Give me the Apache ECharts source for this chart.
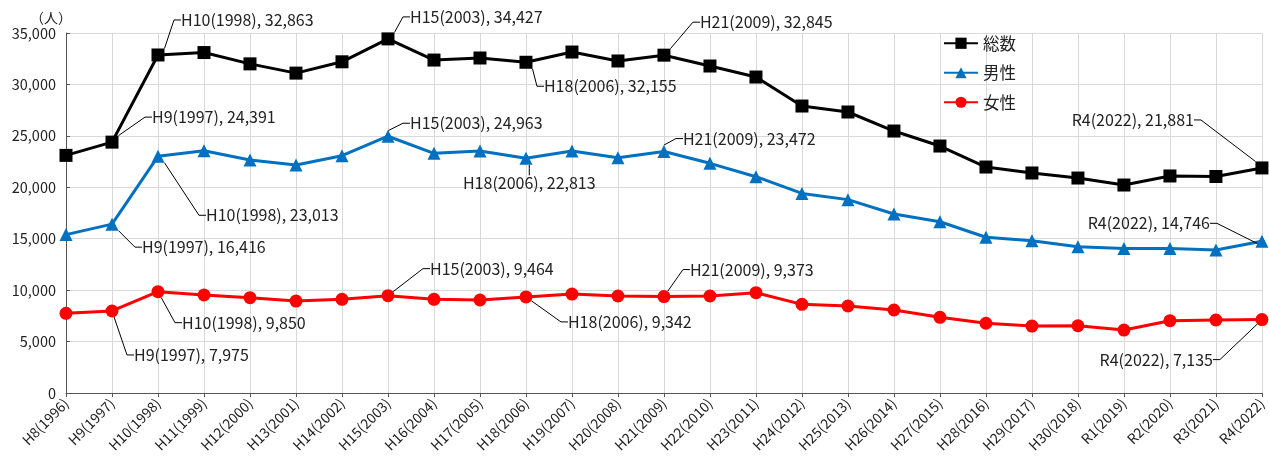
<!DOCTYPE html>
<html><head><meta charset="utf-8">
<script src="https://cdn.jsdelivr.net/npm/echarts@6/dist/echarts.min.js"></script>
<style>html,body{margin:0;padding:0;background:#fff}#c{width:1269px;height:464px}</style>
</head><body><div id="c"></div>
<script>
const categories = ['H8(1996)','H9(1997)','H10(1998)','H11(1999)','H12(2000)','H13(2001)','H14(2002)','H15(2003)','H16(2004)','H17(2005)','H18(2006)','H19(2007)','H20(2008)','H21(2009)','H22(2010)','H23(2011)','H24(2012)','H25(2013)','H26(2014)','H27(2015)','H28(2016)','H29(2017)','H30(2018)','R1(2019)','R2(2020)','R3(2021)','R4(2022)'];
const totalValues = [23100,24391,32863,33100,32000,31100,32200,34427,32370,32570,32155,33150,32280,32845,31790,30720,27900,27320,25470,24010,21970,21390,20900,20220,21100,21050,21881];
const maleValues = [15400,16416,23013,23550,22650,22170,23070,24963,23300,23530,22813,23530,22880,23472,22330,21030,19400,18800,17400,16650,15140,14810,14220,14060,14060,13900,14746];
const femaleValues = [7750,7975,9850,9530,9270,8940,9110,9464,9110,9040,9342,9620,9430,9373,9430,9750,8620,8460,8070,7360,6780,6510,6540,6120,7030,7100,7135];
const yTicks = [0,5000,10000,15000,20000,25000,30000,35000];
const seriesNames = ['総数','男性','女性'];
const annotatedIndices = [1,2,7,10,13,26];

// label placement (pixel offsets from point; style config, not data)
const labelOffsets = [
  {1:[40,-25,'left'],2:[23,-35,'left'],7:[22,-22,'left'],10:[18,24,'left'],13:[36,-33,'left'],26:[-68,-48,'right']},
  {1:[30,23,'left'],2:[48,59,'left'],7:[22,-13,'left'],10:[-63,25,'left'],13:[19,-13,'left'],26:[-52,-18,'right']},
  {1:[22,44,'left'],2:[24,31,'left'],7:[42,-27,'left'],10:[42,25,'left'],13:[26,-27,'left'],26:[-49,40,'right']}
];

const fmt = v => v.toLocaleString('en-US');
const FONT = '"Noto Sans CJK JP", "Noto Sans", sans-serif';

function buildData(values) {
  return values.map((v, i) => {
    if (annotatedIndices.indexOf(i) >= 0) {
      return {value: v, label: {show: true}, labelLine: {show: true}};
    }
    return v;
  });
}

function makeSeries(si, values, color, symbol, size) {
  return {
    name: seriesNames[si], type: 'line', data: buildData(values),
    symbol: symbol, symbolSize: size,
    lineStyle: {color: color, width: 3},
    itemStyle: {color: color, borderWidth: 0},
    z: 3 - si,
    label: {
      show: false, color: '#222', fontSize: 16, fontFamily: FONT,
      formatter: p => categories[p.dataIndex] + ', ' + fmt(p.value)
    },
    labelLine: {show: false, length2: 7, lineStyle: {color: '#000', width: 1}},
    labelLayout: function (p) {
      const o = labelOffsets[si][p.dataIndex];
      if (!o) return {};
      const cx = p.rect.x + p.rect.width / 2;
      const cy = p.rect.y + p.rect.height / 2;
      return {x: cx + o[0], y: cy + o[1], align: o[2], verticalAlign: 'middle'};
    },
    animation: false
  };
}

const chart = echarts.init(document.getElementById('c'));
chart.setOption({
  animation: false,
  backgroundColor: '#fff',
  grid: {left: 66, right: 7, top: 33, bottom: 71, containLabel: false},
  legend: {
    orient: 'vertical', left: 938, top: 30, itemGap: 13, itemWidth: 34, itemHeight: 14,
    textStyle: {fontSize: 16.5, color: '#222', fontFamily: FONT},
    data: seriesNames
  },
  xAxis: {
    type: 'category', data: categories, boundaryGap: false,
    axisLine: {lineStyle: {color: '#555', width: 1}},
    axisTick: {show: true, length: 4, lineStyle: {color: '#555'}},
    axisLabel: {rotate: 45, fontSize: 14, color: '#222', fontFamily: FONT, margin: 8, interval: 0},
    splitLine: {show: true, lineStyle: {color: '#d9d9d9', width: 1}}
  },
  yAxis: {
    type: 'value', min: 0, max: 35000, interval: 5000,
    name: '（人）', nameLocation: 'end', nameGap: 8,
    nameTextStyle: {fontSize: 14, color: '#222', fontFamily: FONT, align: 'right', padding: [0, -6, 0, 0]},
    axisLine: {show: true, lineStyle: {color: '#555', width: 1}},
    axisTick: {show: true, inside: true, length: 4, lineStyle: {color: '#555'}},
    axisLabel: {fontSize: 14.5, color: '#222', fontFamily: FONT, margin: 10,
      formatter: v => yTicks.indexOf(v) >= 0 ? fmt(v) : ''},
    splitLine: {show: true, lineStyle: {color: '#d9d9d9', width: 1}}
  },
  series: [
    makeSeries(0, totalValues, '#000000', 'rect', 13),
    makeSeries(1, maleValues, '#0070C0', 'triangle', 13),
    makeSeries(2, femaleValues, '#FF0000', 'circle', 13)
  ]
});
</script>
</body></html>
